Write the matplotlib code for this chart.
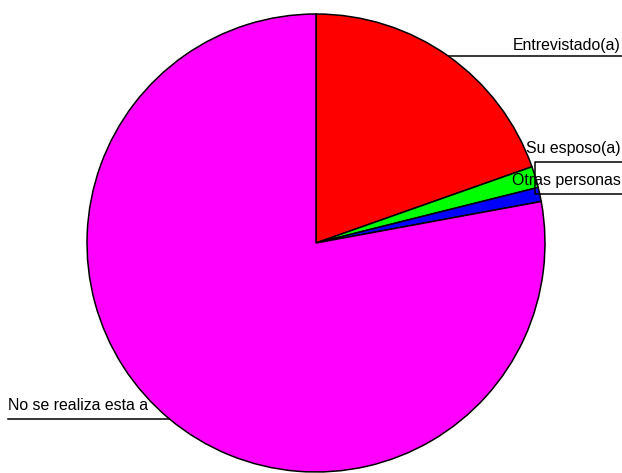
import numpy as np
import matplotlib
matplotlib.use("Agg")
import matplotlib.pyplot as plt

labels = ["Entrevistado(a)", "Su esposo(a)", "Otras personas", "No se realiza esta a"]
values = [19.6, 1.5, 1.0, 77.9]
colors = ["#FF0000", "#00FF00", "#0000FF", "#FF00FF"]

W, H = 622, 473
fig = plt.figure(figsize=(W / 100, H / 100), dpi=100)
ax = fig.add_axes([0, 0, 1, 1])

cx, cy, r = 316, H - 243, 229
wedges, _ = ax.pie(values, colors=colors, startangle=90, counterclock=False,
                   center=(cx, cy), radius=r, frame=True,
                   wedgeprops=dict(edgecolor="black", linewidth=1.1))
ax.set_xlim(0, W)
ax.set_ylim(0, H)
ax.set_aspect("equal")
ax.axis("off")

# label line y overrides (pixel rows from top) for collision avoidance
override = {1: H - 162}
text_gap = {0: 3, 1: 6, 2: 6, 3: 6}
font = dict(family=["Liberation Sans", "DejaVu Sans"], fontsize=11.4)
for i, w in enumerate(wedges):
    th = np.deg2rad((w.theta1 + w.theta2) / 2)
    px, py = cx + r * np.cos(th), cy + r * np.sin(th)
    ly = override.get(i, py)
    if np.cos(th) >= 0:
        ax.plot([px, px, W], [py, ly, ly], color="black", lw=1.1, solid_capstyle="butt")
        ax.text(W - 1, ly + text_gap[i], labels[i], ha="right", va="bottom", **font)
    else:
        ax.plot([px, 8], [ly, ly], color="black", lw=1.1)
        ax.text(8, ly + text_gap[i], labels[i], ha="left", va="bottom", **font)

# connector between stacked labels
thg = np.deg2rad((wedges[1].theta1 + wedges[1].theta2) / 2)
thb = np.deg2rad((wedges[2].theta1 + wedges[2].theta2) / 2)
gx = cx + r * np.cos(thg)
by = cy + r * np.sin(thb)
ax.plot([gx, gx, cx + r * np.cos(thb)], [cy + r * np.sin(thg), by, by], color="black", lw=1.1)

fig.savefig("out.png", dpi=100)
